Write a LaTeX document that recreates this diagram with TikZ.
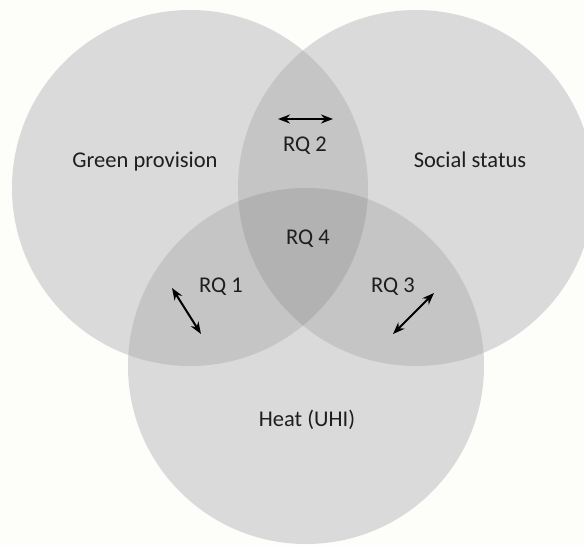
\documentclass[tikz,border=0pt]{standalone}
\usepackage{fontspec}
\setmainfont{Carlito}
\usetikzlibrary{arrows.meta}
\definecolor{bg}{HTML}{FDFDFA}
\definecolor{one}{HTML}{DADADA}
\definecolor{two}{HTML}{C5C5C5}
\definecolor{three}{HTML}{B2B2B2}
\definecolor{txt}{HTML}{1E1E1E}
\begin{document}
\begin{tikzpicture}[x=1pt,y=-1pt,
  lbl/.style={font=\fontsize{22.5}{25}\selectfont, text=txt, inner sep=0pt, anchor=base},
  dbl/.style={{Stealth[length=12pt,width=9pt]}-{Stealth[length=12pt,width=9pt]}, line width=2pt, black}]
\fill[bg] (0,0) rectangle (584,545);
\useasboundingbox (0,0) rectangle (584,545);
\clip (0,0) rectangle (584,545);
% single circles
\fill[one] (190,188) circle[radius=178];
\fill[one] (416,188) circle[radius=178];
\fill[one] (306,366) circle[radius=178];
% pairwise intersections
\begin{scope}
  \clip (190,188) circle[radius=178];
  \fill[two] (416,188) circle[radius=178];
  \fill[two] (306,366) circle[radius=178];
\end{scope}
\begin{scope}
  \clip (416,188) circle[radius=178];
  \fill[two] (306,366) circle[radius=178];
\end{scope}
% triple intersection
\begin{scope}
  \clip (190,188) circle[radius=178];
  \clip (416,188) circle[radius=178];
  \fill[three] (306,366) circle[radius=178];
\end{scope}
% labels
\node[lbl] (green) at (145,168) {Green provision};
\node[lbl] (social) at (470,168) {Social status};
\node[lbl] (heat) at (307,427) {Heat (UHI)};
\node[lbl] (rq2) at (305,152) {RQ 2};
\node[lbl] (rq4) at (308,245) {RQ 4};
\node[lbl] (rq1) at (221,293) {RQ 1};
\node[lbl] (rq3) at (393,293) {RQ 3};
% arrows
\coordinate (a2s) at (278,119);
\coordinate (a2e) at (333,119);
\coordinate (a1s) at (172,288);
\coordinate (a1e) at (201,334);
\coordinate (a3s) at (434,293);
\coordinate (a3e) at (393,334);
\draw[dbl] (a2s) -- (a2e);
\draw[dbl] (a1s) -- (a1e);
\draw[dbl] (a3s) -- (a3e);
\end{tikzpicture}
\end{document}
